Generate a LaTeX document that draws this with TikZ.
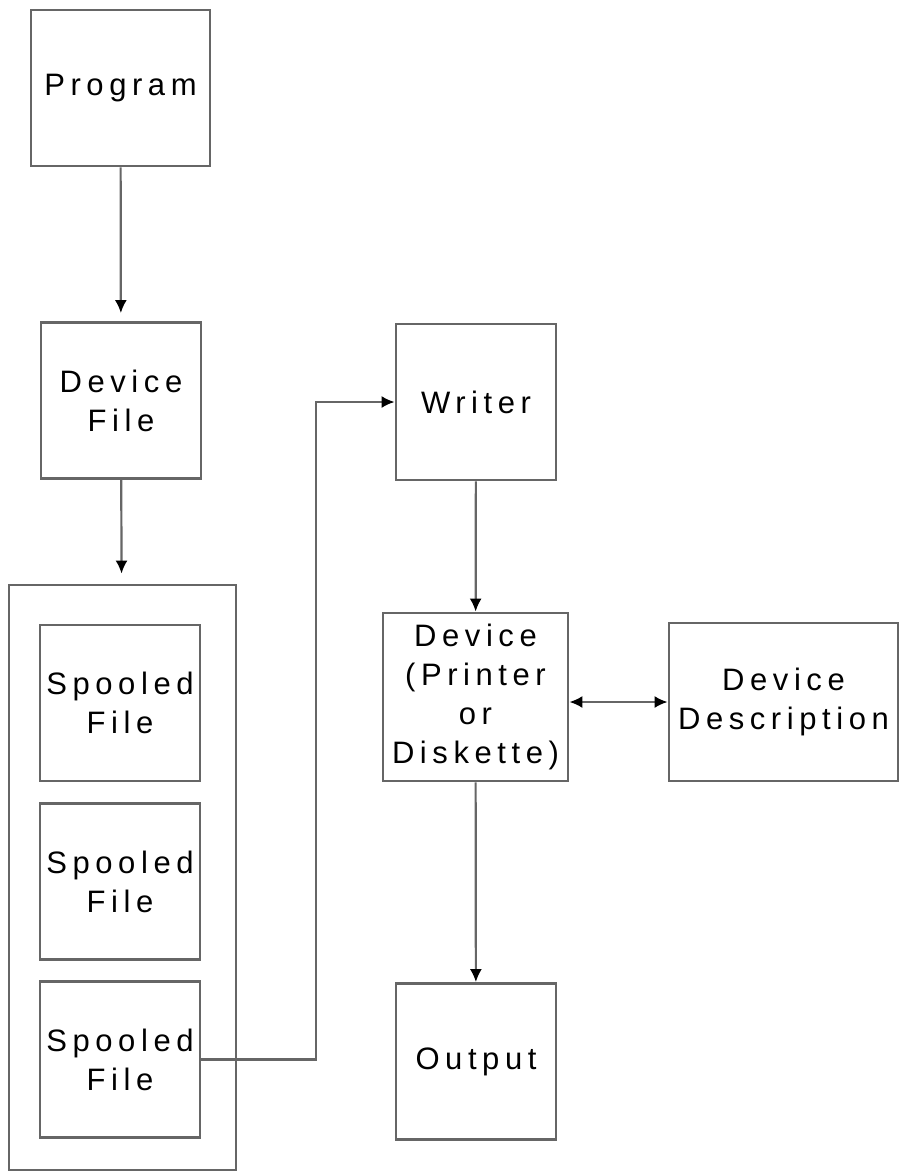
\documentclass[tikz,border=0pt]{standalone}
\usepackage{fontspec}
\newfontfamily\boxfont[LetterSpace=18]{Liberation Sans}
\usetikzlibrary{arrows.meta}

\begin{document}
\begin{tikzpicture}[
  x=0.5pt, y=-0.5pt,
  box/.style={draw=black!60, line width=1.4pt, fill=white, inner sep=0pt,
    align=center, font=\boxfont\fontsize{15.5}{19.5}\selectfont},
  sbox/.style={box, minimum width=80pt, minimum height=78pt},
  link/.style={draw=black!60, line width=1.1pt,
    -{Latex[length=6.5pt,width=6pt,color=black]}},
  both/.style={link, {Latex[length=6.5pt,width=6pt,color=black]}-{Latex[length=6.5pt,width=6pt,color=black]}}
]
\useasboundingbox (0,0) rectangle (902,1173);

% Left column
\node[box, minimum width=89.5pt, minimum height=78pt] (prog) at (120.5,88) {Program};
\node[sbox] (devf) at (121,400.5) {Device\\File};
\node[draw=black!60, line width=1.4pt, minimum width=113.5pt,
  minimum height=292.5pt, inner sep=0pt] (queue) at (122.5,877.5) {};
\node[sbox] (sp1) at (120,703) {Spooled\\File};
\node[sbox] (sp2) at (120,881.5) {Spooled\\File};
\node[sbox] (sp3) at (120,1059.5) {Spooled\\File};

% Right column
\node[sbox] (wr) at (476,402) {Writer};
\node[box, minimum width=92.5pt, minimum height=84pt] (dev) at (475.5,697)
  {Device\\(Printer\\or\\Diskette)};
\node[box, minimum width=114.5pt, minimum height=79pt] (desc) at (783.5,702)
  {Device\\Description};
\node[sbox] (out) at (476,1061.5) {Output};

% Connectors
\coordinate (turn) at (316,0);
\draw[link, shorten >=4pt] (prog) -- (devf);
\draw[link, shorten >=5pt] (devf) -- (queue);
\draw[link] (sp3.east) -| (turn |- wr.west) -- (wr.west);
\draw[link] (wr) -- (dev);
\draw[both] (dev.east |- desc.west) -- (desc.west);
\draw[link] (dev) -- (out);
\end{tikzpicture}
\end{document}
